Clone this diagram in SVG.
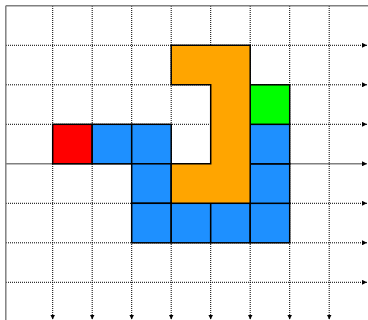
<svg xmlns="http://www.w3.org/2000/svg" width="368" height="320" viewBox="0 0 368 320">
  <style>
    .grid { stroke: #000; stroke-width: 1; stroke-dasharray: 1 1; fill: none; }
    .axis { stroke: #808080; stroke-width: 1.5; fill: none; }
    .cell { stroke: #000; stroke-width: 1.5; }
    .blue { fill: #1e90ff; }
    .red { fill: #ff0000; }
    .green { fill: #00ff00; }
    .orange { fill: #ffa500; }
  </style>
  <defs>
    <marker id="ah" viewBox="0 0 10 10" refX="10" refY="5" markerWidth="5" markerHeight="5" markerUnits="userSpaceOnUse" orient="auto">
      <path d="M0,0 L10,5 L0,10 Z" fill="#000"/>
    </marker>
  </defs>
  <rect x="0" y="0" width="368" height="320" fill="#fff"/>
  <g id="grid">
    <g id="hlines">
      <line class="grid" x1="6" y1="45.3" x2="367" y2="45.3" marker-end="url(#ah)"/>
      <line class="grid" x1="6" y1="84.8" x2="367" y2="84.8" marker-end="url(#ah)"/>
      <line class="grid" x1="6" y1="124.3" x2="367" y2="124.3" marker-end="url(#ah)"/>
      <line class="axis" x1="6" y1="163.8" x2="367" y2="163.8" marker-end="url(#ah)"/>
      <line class="grid" x1="6" y1="203.3" x2="367" y2="203.3" marker-end="url(#ah)"/>
      <line class="grid" x1="6" y1="242.8" x2="367" y2="242.8" marker-end="url(#ah)"/>
      <line class="grid" x1="6" y1="282.3" x2="367" y2="282.3" marker-end="url(#ah)"/>
    </g>
    <g id="vlines">
      <line class="grid" x1="52.7" y1="6" x2="52.7" y2="319.5" marker-end="url(#ah)"/>
      <line class="grid" x1="92.2" y1="6" x2="92.2" y2="319.5" marker-end="url(#ah)"/>
      <line class="grid" x1="131.7" y1="6" x2="131.7" y2="319.5" marker-end="url(#ah)"/>
      <line class="grid" x1="171.2" y1="6" x2="171.2" y2="319.5" marker-end="url(#ah)"/>
      <line class="grid" x1="210.7" y1="6" x2="210.7" y2="319.5" marker-end="url(#ah)"/>
      <line class="grid" x1="250.2" y1="6" x2="250.2" y2="319.5" marker-end="url(#ah)"/>
      <line class="grid" x1="289.7" y1="6" x2="289.7" y2="319.5" marker-end="url(#ah)"/>
      <line class="grid" x1="329.2" y1="6" x2="329.2" y2="319.5" marker-end="url(#ah)"/>
    </g>
    <line class="axis" x1="5.8" y1="5.8" x2="368" y2="5.8"/>
    <line class="axis" x1="5.8" y1="5.8" x2="5.8" y2="320"/>
  </g>
  <g id="red"><rect class="cell red" x="52.7" y="124.3" width="39.5" height="39.5"/></g>
  <g id="blue">
    <rect class="cell blue" x="92.2" y="124.3" width="39.5" height="39.5"/>
    <rect class="cell blue" x="131.7" y="124.3" width="39.5" height="39.5"/>
    <rect class="cell blue" x="131.7" y="163.8" width="39.5" height="39.5"/>
    <rect class="cell blue" x="131.7" y="203.3" width="39.5" height="39.5"/>
    <rect class="cell blue" x="171.2" y="203.3" width="39.5" height="39.5"/>
    <rect class="cell blue" x="210.7" y="203.3" width="39.5" height="39.5"/>
    <rect class="cell blue" x="250.2" y="203.3" width="39.5" height="39.5"/>
    <rect class="cell blue" x="250.2" y="163.8" width="39.5" height="39.5"/>
    <rect class="cell blue" x="250.2" y="124.3" width="39.5" height="39.5"/>
  </g>
  <g id="green"><rect class="cell green" x="250.2" y="84.8" width="39.5" height="39.5"/></g>
  <g id="orange">
    <path class="cell orange" d="M171.2,45.3 H250.2 V203.3 H171.2 V163.8 H210.7 V84.8 H171.2 Z"/>
  </g>
</svg>
